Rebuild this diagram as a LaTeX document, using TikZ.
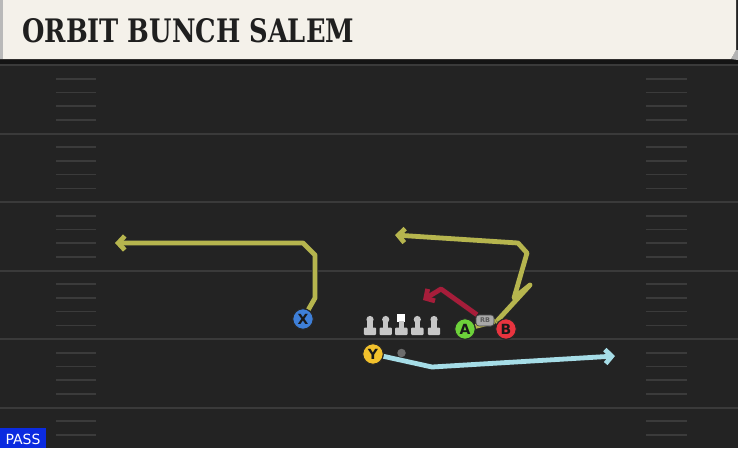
\documentclass[tikz,border=0pt]{standalone}
\usepackage{fontspec}
\usetikzlibrary{arrows.meta}
\newfontfamily\titlefont{DejaVu Serif}
\newfontfamily\uifont{DejaVu Sans}
\definecolor{field}{HTML}{232323}
\definecolor{yardline}{HTML}{3A3A3A}
\definecolor{hashc}{HTML}{3B3B3B}
\definecolor{cream}{HTML}{F4F1EA}
\definecolor{olive}{HTML}{B6B54E}
\definecolor{redroute}{HTML}{A61D3A}
\definecolor{blueroute}{HTML}{A6DDE7}
\definecolor{xblue}{HTML}{3E7FD8}
\definecolor{yyellow}{HTML}{F2C12C}
\definecolor{agreen}{HTML}{6DD23A}
\definecolor{bred}{HTML}{E8343F}
\definecolor{lgray}{HTML}{C6C6C6}
\definecolor{rbgray}{HTML}{A8A8A8}
\definecolor{passblue}{HTML}{0B2BE0}
\tikzset{
  player/.style={circle, minimum size=20.5pt, inner sep=0pt, draw=black!85, line width=1pt,
    font=\uifont\bfseries\fontsize{14}{14}\selectfont, text=black!90},
  rbbox/.style={fill=rbgray, rounded corners=3pt, minimum width=18pt, minimum height=11pt, inner sep=0pt,
    font=\uifont\bfseries\fontsize{6.5}{6.5}\selectfont, text=black!65, draw=black!75, line width=0.6pt},
  route/.style={line width=4.8pt, line join=round, preaction={draw=black!85, line width=6.4pt}},
  tip/.style={-{Straight Barb[length=6.5pt,width=14pt,line width=4.8pt]}},
  hash/.style={draw=hashc, line width=1.6pt},
  yard/.style={draw=yardline, line width=2pt}
}
\begin{document}
\begin{tikzpicture}[x=1pt,y=-1pt]
\useasboundingbox (0,0) rectangle (738,448);
% field
\fill[field] (0,0) rectangle (738,448);
\fill[black!92] (0,58) rectangle (738,64);
% yard lines
\foreach \k in {0,5,10,15,20,25}{
  \draw[yard] (0,{65+13.7*\k}) -- (738,{65+13.7*\k});
}
% hash marks
\foreach \k in {1,2,3,4,6,7,8,9,11,12,13,14,16,17,18,19,21,22,23,24,26,27}{
  \draw[hash] (56,{65+13.7*\k}) -- (96,{65+13.7*\k});
  \draw[hash] (646,{65+13.7*\k}) -- (687,{65+13.7*\k});
}
% header
\fill[gray!60] (731,59) -- (736,50) -- (738,50) -- (738,60) -- cycle;
\fill[cream] (0,0) -- (736,0) -- (736,50) -- (731,59) -- (0,59) -- cycle;
\fill[gray!55] (0,0) rectangle (3,59);
\node[anchor=south west, inner sep=0pt, text=black!88] (title) at (22,43.5)
  {\resizebox{332pt}{24pt}{\titlefont\bfseries ORBIT BUNCH SALEM}};
% coordinates
\coordinate (j) at (497,321);
\coordinate (b1) at (530,285);
\coordinate (b2) at (514,298);
\coordinate (b3) at (527,253);
\coordinate (b4) at (518,243);
\coordinate (btip) at (395,235);
\coordinate (x1) at (315,298);
\coordinate (x2) at (315,255);
\coordinate (x3) at (303,243);
\coordinate (xtip) at (115,243);
\coordinate (r1) at (441,289);
\coordinate (rtip) at (423,300);
\coordinate (y1) at (432,367);
\coordinate (ytip) at (615,356);
% players (positions first)
\node[player, fill=xblue] (X) at (303,319) {X};
\node[player, fill=yyellow] (Y) at (373,354) {Y};
\node[player, fill=agreen] (A) at (465,329) {A};
\node[player, fill=bred] (B) at (506,329) {B};
\node[rbbox] (RB) at (485,320.5) {RB};
% routes
\draw[route, draw=olive] (A) -- (j);
\draw[route, draw=olive] (B) -- (j);
\draw[route, draw=olive, tip] (j) -- (b1) -- (b2) -- (b3) -- (b4) -- (btip);
\draw[route, draw=olive, tip] (X) -- (x1) -- (x2) -- (x3) -- (xtip);
\draw[route, draw=redroute, tip] (RB) -- (r1) -- (rtip);
\draw[route, draw=blueroute, tip] (Y) -- (y1) -- (ytip);
% redraw players on top
\node[player, fill=xblue] at (X) {X};
\node[player, fill=yyellow] at (Y) {Y};
\node[player, fill=agreen] at (A) {A};
\node[player, fill=bred] at (B) {B};
\node[rbbox] at (RB) {RB};
% linemen
\foreach \cx in {370,385.7,417.3,434}{
  \fill[lgray] (\cx,319.5) circle (3.6pt);
  \fill[lgray] (\cx-2.6,320) rectangle (\cx+2.6,329);
  \fill[lgray, rounded corners=1pt] (\cx-6.2,327.5) rectangle (\cx+6.2,335);
}
\fill[white] (397.2,313.5) rectangle (405.2,321.5);
\fill[lgray] (398.6,321) rectangle (403.8,329);
\fill[lgray, rounded corners=1pt] (395,327.5) rectangle (407.5,335);
% ball
\node[circle, fill=gray!85!black, inner sep=0pt, minimum size=8.5pt] (ball) at (401.5,353) {};
% pass label
\fill[passblue] (0,428) rectangle (46,448);
\node[text=white, font=\uifont\fontsize{14}{14}\selectfont, inner sep=0pt] (pass) at (23,439) {PASS};
\end{tikzpicture}
\end{document}
